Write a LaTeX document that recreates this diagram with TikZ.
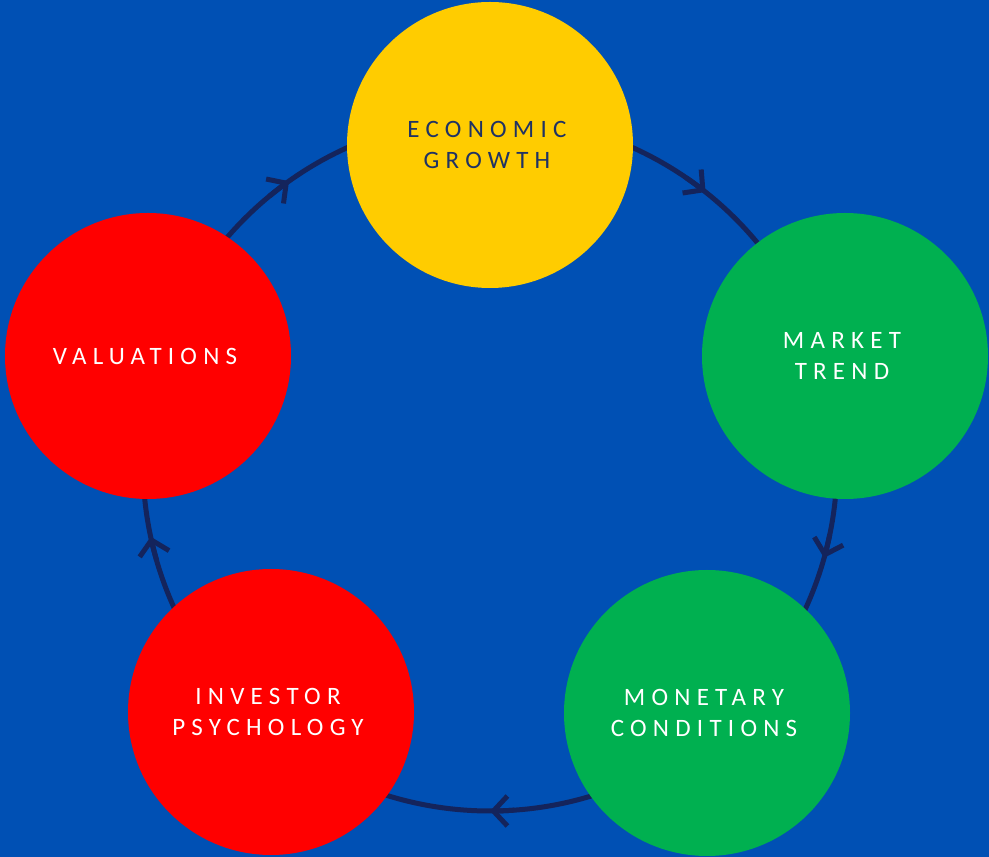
\documentclass[tikz,border=0pt]{standalone}
\usepackage{fontspec}
\setmainfont{Carlito}
\newfontfamily\spacedfont[LetterSpace=25]{Carlito}
\newcommand\trailfix{\kern6pt}
\usetikzlibrary{arrows.meta}
\definecolor{bgblue}{RGB}{0,80,180}
\definecolor{ringnavy}{RGB}{20,36,92}
\definecolor{textnavy}{RGB}{31,50,100}
\definecolor{cyellow}{RGB}{255,204,0}
\definecolor{cgreen}{RGB}{0,176,80}
\definecolor{cred}{RGB}{255,0,0}
\tikzset{
  bubble/.style={circle, minimum size=286pt, inner sep=0pt, draw=none,
    font=\spacedfont\fontsize{25}{31}\selectfont, align=center, text=white},
  ringline/.style={draw=ringnavy, line width=5pt},
  ringarrow/.style={ringline, -{Straight Barb[length=14pt,width=30pt]}}
}
\begin{document}
\begin{tikzpicture}[x=1pt,y=1pt]
\fill[bgblue] (0,0) rectangle (989,857);
\useasboundingbox (0,0) rectangle (989,857);
\coordinate (ring) at (490,393);
\draw[ringline] (ring) circle[radius=347];
\foreach \a in {51.6,-15.7,-90,192.1,125.4}{
  \draw[ringarrow] ([shift={(\a+4:347)}]ring) arc[start angle=\a+4, end angle=\a, radius=347];
}
\node[bubble, fill=cyellow, text=textnavy] (econ) at (490,712) {ECONOMIC\trailfix\\GROWTH\trailfix};
\node[bubble, fill=cgreen] (market) at (845,501) {MARKET\trailfix\\TREND\trailfix};
\node[bubble, fill=cgreen] (monetary) at (707,144) {MONETARY\trailfix\\CONDITIONS\trailfix};
\node[bubble, fill=cred] (investor) at (271,145) {INVESTOR\trailfix\\PSYCHOLOGY\trailfix};
\node[bubble, fill=cred] (valuations) at (148,501) {VALUATIONS\trailfix};
\end{tikzpicture}
\end{document}
